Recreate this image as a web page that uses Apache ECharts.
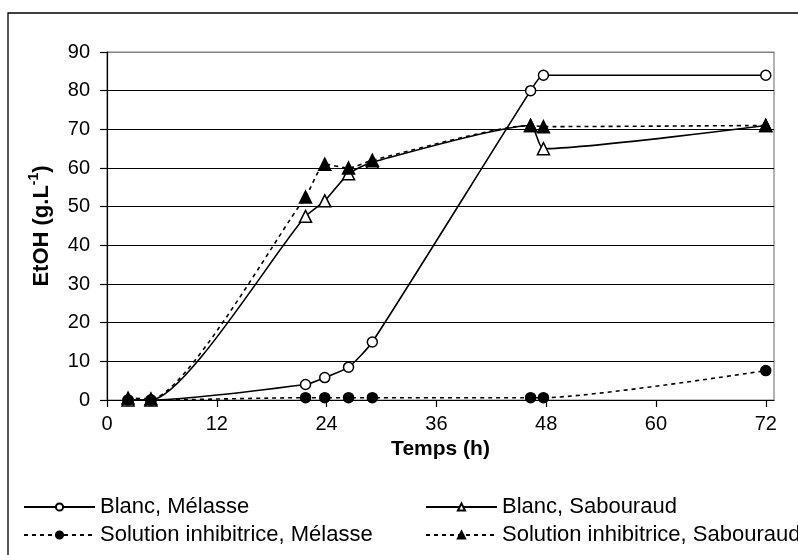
<!DOCTYPE html>
<html>
<head>
<meta charset="utf-8">
<script src="https://cdn.jsdelivr.net/npm/echarts@6/dist/echarts.min.js"></script>
<style>html,body{margin:0;padding:0;background:#fff;}#c{width:798px;height:555px;}</style>
</head>
<body>
<div id="c"></div>
<script>
// Time (h) and EtOH (g/L)
const blancMelasse = [[2.3,0],[4.8,0],[21.7,4],[23.8,5.8],[26.4,8.5],[29,15],[46.3,80],[47.7,84],[72,84]];
const blancSabouraud = [[2.3,0],[4.8,0],[21.7,47.5],[23.8,51.5],[26.4,58.5],[29,61.5],[46.3,71],[47.7,65],[72,71]];
const inhibMelasse = [[2.3,0],[4.8,0],[21.7,0.6],[23.8,0.6],[26.4,0.6],[29,0.6],[46.3,0.6],[47.7,0.6],[72,7.6]];
const inhibSabouraud = [[2.3,0.5],[4.8,0.3],[21.7,52.5],[23.8,61],[26.4,60],[29,62],[46.3,71],[47.7,70.7],[72,71]];
const xTicks = [0,12,24,36,48,60,72];
const names = ['Blanc, Mélasse','Blanc, Sabouraud','Solution inhibitrice, Mélasse','Solution inhibitrice, Sabouraud'];

const FONT = "'Liberation Sans', Arial, sans-serif";
const chart = echarts.init(document.getElementById('c'), null, {renderer:'canvas'});

function mkSeries(name, data, symbol, filled, dashed, size){
  return {
    name: name, type:'line', data: data, smooth: 0.2,
    symbol: symbol, symbolSize: size,
    lineStyle: {color:'#000', width:1.6, type: dashed ? [4,4] : 'solid'},
    itemStyle: {color: filled ? '#000' : '#fff', borderColor:'#000', borderWidth:1.5},
    emphasis: {disabled:true},
    animation:false
  };
}

function mkLegend(name, left, top){
  return {
    data:[name], left:left, top:top, orient:'horizontal',
    itemWidth:71, itemHeight:9, padding:0,
    textStyle:{fontFamily:FONT, fontSize:22, color:'#000', lineHeight:24},
    selectedMode:false
  };
}

const gridColors = ['#000','#000','#000','#000','#000','#000','#000','#000','#000','#808080'];

chart.setOption({
  backgroundColor:'#fff',
  animation:false,
  graphic:[{type:'rect', shape:{x:8, y:13, width:820, height:580}, style:{fill:'none', stroke:'#000', lineWidth:1.3}, silent:true}],
  grid:{left:107, right:24, top:52, bottom:155, show:true, borderColor:'#808080', borderWidth:1.2, backgroundColor:'transparent'},
  legend:[
    mkLegend(names[0], 23, 495),
    mkLegend(names[1], 425, 495),
    mkLegend(names[2], 23, 523),
    mkLegend(names[3], 425, 523)
  ],
  xAxis:{
    type:'value', min:0, max:72.9,
    name:'Temps (h)', nameLocation:'middle', nameGap:38,
    nameTextStyle:{fontFamily:FONT, fontSize:21, fontWeight:'bold', color:'#000'},
    axisLine:{show:true, onZero:false, lineStyle:{color:'#000', width:1.2}},
    axisTick:{show:true, inside:false, length:7, customValues:xTicks, lineStyle:{color:'#000', width:1.2}},
    axisLabel:{customValues:xTicks, fontFamily:FONT, fontSize:20, color:'#000', margin:14},
    splitLine:{show:false}
  },
  yAxis:{
    type:'value', min:0, max:90, interval:10,
    name:'{a|EtOH (g.L}{b|-1}{a|)}', nameLocation:'middle', nameGap:54, nameRotate:90,
    nameTextStyle:{rich:{
      a:{fontFamily:FONT, fontSize:22, fontWeight:'bold', color:'#000', lineHeight:26, verticalAlign:'bottom'},
      b:{fontFamily:FONT, fontSize:14, fontWeight:'bold', color:'#000', lineHeight:26, verticalAlign:'top', padding:[0,0,8,0]}
    }},
    axisLine:{show:true, lineStyle:{color:'#000', width:1.2}},
    axisTick:{show:true, inside:false, length:7, lineStyle:{color:'#000', width:1.2}},
    axisLabel:{fontFamily:FONT, fontSize:20, color:'#000', margin:17},
    splitLine:{show:true, lineStyle:{color:gridColors, width:1.2}}
  },
  series:[
    mkSeries(names[0], blancMelasse, 'circle', false, false, 10),
    mkSeries(names[1], blancSabouraud, 'triangle', false, false, 12),
    mkSeries(names[2], inhibMelasse, 'circle', true, true, 10),
    mkSeries(names[3], inhibSabouraud, 'triangle', true, true, 12)
  ]
});
</script>
</body>
</html>
